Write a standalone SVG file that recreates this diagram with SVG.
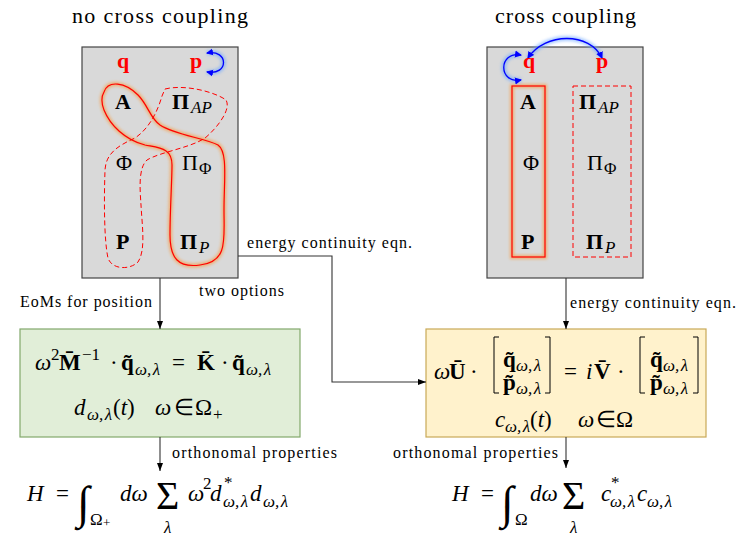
<svg xmlns="http://www.w3.org/2000/svg" width="742" height="537" viewBox="0 0 742 537">
<defs>
<style>
.t{font-family:"Liberation Serif","Times New Roman",serif;fill:#000}
.lbl{font-size:16px}
.ttl{font-size:22px}
.m{font-size:23px}
.n{font-size:22px}
.i{font-style:italic}
.b{font-weight:bold}
.s{font-size:17px}
.red{fill:#ff0000}
.conn{fill:none;stroke:#333;stroke-width:1.1}
.gray{fill:#d9d9d9;stroke:#444;stroke-width:1.2}
.glowR{fill:none;stroke:#ff8a1c;stroke-width:4;opacity:0.55;filter:url(#blur)}
.redS{fill:none;stroke:#ff0000;stroke-width:1.2}
.redD{fill:none;stroke:#ff0000;stroke-width:1;stroke-dasharray:5 3}
.glowB{fill:none;stroke:#6fa8ff;stroke-width:5;opacity:0.6;filter:url(#blur)}
.blue{fill:none;stroke:#0000ff;stroke-width:1.3}
.brk{fill:none;stroke:#000;stroke-width:1}
</style>
<filter id="blur" x="-30%" y="-30%" width="160%" height="160%"><feGaussianBlur stdDeviation="1.5"/></filter>
<marker id="ah" markerWidth="9" markerHeight="8" refX="8" refY="4" orient="auto" markerUnits="userSpaceOnUse"><path d="M0,1 L8,4 L0,7 Z" fill="#000"/></marker>
<marker id="bh" markerWidth="8" markerHeight="8" refX="6" refY="4" orient="auto-start-reverse" markerUnits="userSpaceOnUse"><path d="M0,0.5 L7,4 L0,7.5 Z" fill="#0000ff"/></marker>
</defs>

<rect width="742" height="537" fill="#fff"/>

<!-- titles -->
<text class="t ttl" x="72" y="23" textLength="176">no cross coupling</text>
<text class="t ttl" x="495" y="23" textLength="141">cross coupling</text>

<!-- left gray box -->
<g id="box-nocross">
<rect class="gray" x="82" y="47" width="156" height="231"/>
<path class="glowR" d="M104,92 C108,80 125,82 138,95 C148,105 150,118 160,125 C175,135 205,138 218,145 C228,152 224,180 224,210 C224,240 228,262 200,265 C178,268 170,258 170,235 C170,210 172,180 172,165 C172,148 160,148 145,145 C125,140 110,125 104,110 C101,102 101,97 104,92 Z"/>
<path class="redS" d="M104,92 C108,80 125,82 138,95 C148,105 150,118 160,125 C175,135 205,138 218,145 C228,152 224,180 224,210 C224,240 228,262 200,265 C178,268 170,258 170,235 C170,210 172,180 172,165 C172,148 160,148 145,145 C125,140 110,125 104,110 C101,102 101,97 104,92 Z"/>
<path class="redD" d="M165,89 C185,84 215,92 226,100 C232,110 215,130 205,138 C190,148 160,152 147,160 C138,168 140,190 141,205 C142,225 146,250 138,262 C130,270 112,270 108,258 C104,240 104,200 105,170 C106,152 120,145 135,138 C150,128 158,110 162,96 Z"/>
<path class="glowB" d="M207,53 C229,49 229,76 207,72"/>
<path class="blue" d="M207,53 C229,49 229,76 207,72" marker-start="url(#bh)" marker-end="url(#bh)"/>
<text class="t n b red" x="117" y="68">q</text>
<text class="t n b red" x="190" y="68">p</text>
<text class="t n b" x="115" y="109">A</text>
<text class="t n" x="172" y="109"><tspan class="b">Π</tspan><tspan class="s i" x="191" dy="4">AP</tspan></text>
<text class="t n" x="116" y="170">Φ</text>
<text class="t n" x="182" y="170">Π<tspan class="s" x="199" dy="4">Φ</tspan></text>
<text class="t n b" x="116" y="249">P</text>
<text class="t n" x="180" y="249"><tspan class="b">Π</tspan><tspan class="s i" x="199" dy="4">P</tspan></text>
</g>

<!-- right gray box -->
<g id="box-cross">
<rect class="gray" x="487" y="47" width="156" height="231"/>
<rect class="glowR" x="512" y="86" width="33" height="171"/>
<rect class="redS" x="512" y="86" width="33" height="171"/>
<rect class="redD" x="573" y="86" width="58" height="171"/>
<path class="glowB" d="M521,55 C498,51 498,84 521,80"/>
<path class="blue" d="M521,55 C498,51 498,84 521,80" marker-start="url(#bh)" marker-end="url(#bh)"/>
<path class="glowB" d="M528,58 C545,32 590,32 602,58"/>
<path class="blue" d="M528,58 C545,32 590,32 602,58" marker-start="url(#bh)" marker-end="url(#bh)"/>
<text class="t n b red" x="523" y="68">q</text>
<text class="t n b red" x="596" y="68">p</text>
<text class="t n b" x="520" y="109">A</text>
<text class="t n" x="579" y="109"><tspan class="b">Π</tspan><tspan class="s i" x="598" dy="4">AP</tspan></text>
<text class="t n" x="523" y="170">Φ</text>
<text class="t n" x="587" y="170">Π<tspan class="s" x="604" dy="4">Φ</tspan></text>
<text class="t n b" x="521" y="249">P</text>
<text class="t n" x="586" y="249"><tspan class="b">Π</tspan><tspan class="s i" x="605" dy="4">P</tspan></text>
</g>

<!-- green box -->
<g id="eom-box">
<rect x="20" y="329" width="280" height="108" fill="#e1eed8" stroke="#82a86c" stroke-width="1.2"/>
<text class="t m" y="370"><tspan class="i" x="35">ω</tspan><tspan class="s" x="51" y="360">2</tspan><tspan class="b" x="59" y="370">M&#x304;</tspan><tspan class="s" x="82" y="360">−1</tspan><tspan x="110" y="370">·</tspan><tspan class="b" x="121">q&#x303;</tspan><tspan class="s i" x="135" y="375">ω,<tspan dx="1.5">λ</tspan></tspan><tspan x="172" y="370">=</tspan><tspan class="b" x="197">K&#x304;</tspan><tspan x="221">·</tspan><tspan class="b" x="232">q&#x303;</tspan><tspan class="s i" x="246" y="375">ω,<tspan dx="1.5">λ</tspan></tspan></text>
<text class="t m" y="415"><tspan class="i" x="74">d</tspan><tspan class="s i" x="87" y="420">ω,<tspan dx="1.5">λ</tspan></tspan><tspan x="113" y="415">(</tspan><tspan class="i">t</tspan><tspan>)</tspan><tspan class="i" x="155">ω</tspan><tspan x="174">∈</tspan><tspan x="195">Ω</tspan><tspan class="s" x="213" y="420">+</tspan></text>
</g>

<!-- yellow box -->
<g id="coupled-box">
<rect x="426" y="329" width="280" height="108" fill="#fff2cc" stroke="#c9a957" stroke-width="1.2"/>
<path class="brk" d="M499,337 H494 V393 H499 M545,337 H550 V393 H545 M645,337 H640 V393 H645 M693,337 H698 V393 H693"/>
<text class="t m" y="379"><tspan class="i" x="434">ω</tspan><tspan class="b" x="449">U&#x304;</tspan><tspan x="470">·</tspan><tspan x="564">=</tspan><tspan class="i" x="586">i</tspan><tspan class="b" x="594">V&#x304;</tspan><tspan x="617">·</tspan></text>
<text class="t m" y="367"><tspan class="b" x="503">q&#x303;</tspan><tspan class="s i" x="516" y="371">ω,<tspan dx="1.5">λ</tspan></tspan><tspan class="b" x="650" y="367">q&#x303;</tspan><tspan class="s i" x="663" y="371">ω,<tspan dx="1.5">λ</tspan></tspan></text>
<text class="t m" y="390"><tspan class="b" x="503">p&#x303;</tspan><tspan class="s i" x="516" y="394">ω,<tspan dx="1.5">λ</tspan></tspan><tspan class="b" x="650" y="390">p&#x303;</tspan><tspan class="s i" x="663" y="394">ω,<tspan dx="1.5">λ</tspan></tspan></text>
<text class="t m" y="427"><tspan class="i" x="495">c</tspan><tspan class="s i" x="505" y="432">ω,<tspan dx="1.5">λ</tspan></tspan><tspan x="530" y="427">(</tspan><tspan class="i">t</tspan><tspan>)</tspan><tspan class="i" x="578">ω</tspan><tspan x="596">∈</tspan><tspan x="616">Ω</tspan></text>
</g>

<!-- bottom formulas -->
<g id="H-nocross">
<text class="t m" y="501"><tspan class="i" x="27">H</tspan><tspan x="56">=</tspan><tspan x="77" y="518" style="font-size:46px">∫</tspan><tspan class="s" x="90" y="525">Ω</tspan><tspan x="103" y="527" style="font-size:13px">+</tspan><tspan class="i" x="120" y="501">dω</tspan><tspan x="156" y="509" style="font-size:40px">Σ</tspan><tspan class="s i" x="164" y="533">λ</tspan><tspan class="i" x="188" y="501">ω</tspan><tspan class="s" x="203" y="489">2</tspan><tspan class="i" x="210" y="501">d</tspan><tspan class="s" x="224" y="488">*</tspan><tspan class="s i" x="223" y="507">ω,<tspan dx="1.5">λ</tspan></tspan><tspan class="i" x="250" y="501">d</tspan><tspan class="s i" x="263" y="507">ω,<tspan dx="1.5">λ</tspan></tspan></text>
</g>
<g id="H-cross">
<text class="t m" y="501"><tspan class="i" x="452">H</tspan><tspan x="481">=</tspan><tspan x="501" y="518" style="font-size:46px">∫</tspan><tspan class="s" x="515" y="525">Ω</tspan><tspan class="i" x="530" y="501">dω</tspan><tspan x="562" y="509" style="font-size:40px">Σ</tspan><tspan class="s i" x="570" y="533">λ</tspan><tspan class="i" x="601" y="501">c</tspan><tspan class="s" x="611" y="488">*</tspan><tspan class="s i" x="610" y="507">ω,<tspan dx="1.5">λ</tspan></tspan><tspan class="i" x="637" y="501">c</tspan><tspan class="s i" x="647" y="507">ω,<tspan dx="1.5">λ</tspan></tspan></text>
</g>

<!-- connectors -->
<g id="connectors">
<path class="conn" d="M160,278 V329" marker-end="url(#ah)"/>
<path class="conn" d="M238,256 H332 V382 H426" marker-end="url(#ah)"/>
<path class="conn" d="M566,278 V329" marker-end="url(#ah)"/>
<path class="conn" d="M160,437 V471" marker-end="url(#ah)"/>
<path class="conn" d="M566,437 V468" marker-end="url(#ah)"/>
</g>

<!-- connector labels -->
<text class="t lbl" x="20" y="307" textLength="132">EoMs for position</text>
<text class="t lbl" x="199" y="296" textLength="85">two options</text>
<text class="t lbl" x="247" y="248" textLength="165">energy continuity eqn.</text>
<text class="t lbl" x="570" y="308" textLength="166">energy continuity eqn.</text>
<text class="t lbl" x="172" y="458" textLength="165">orthonomal properties</text>
<text class="t lbl" x="393" y="458" textLength="165">orthonomal properties</text>
</svg>
